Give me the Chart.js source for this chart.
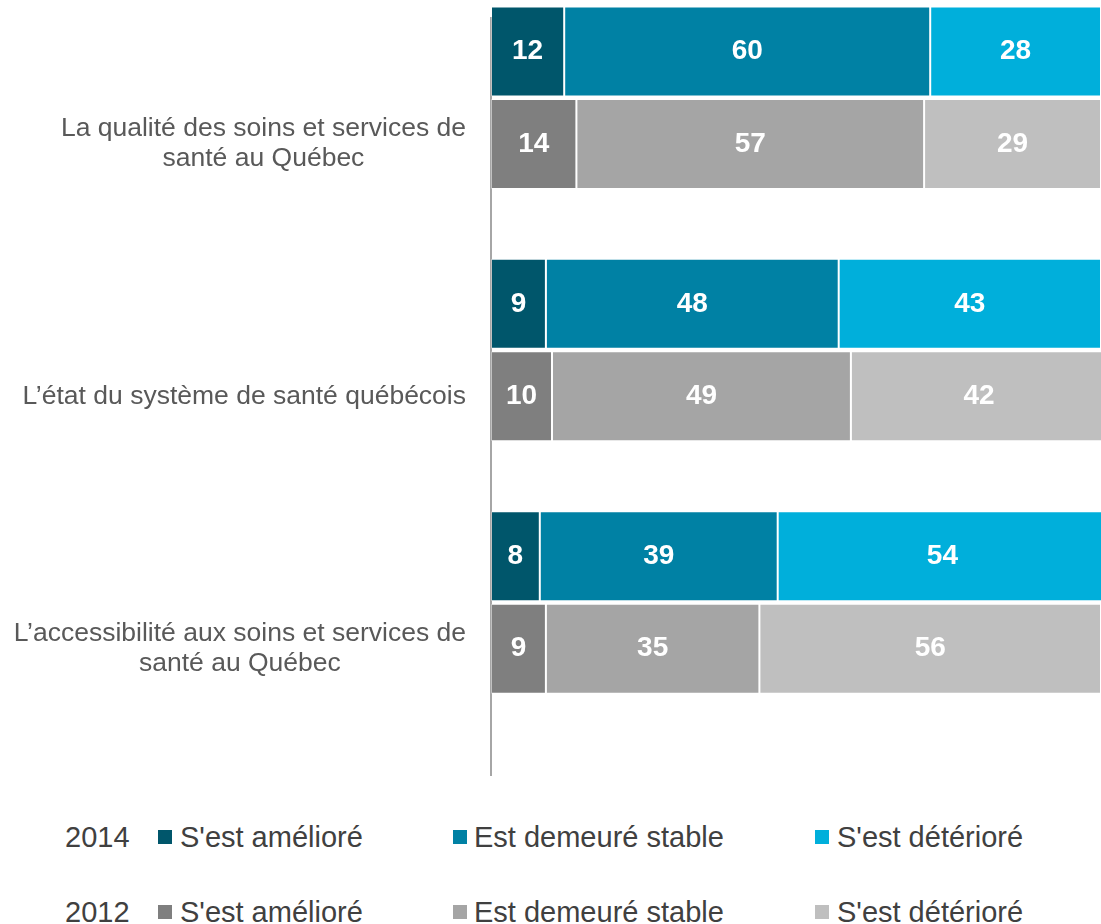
<!DOCTYPE html>
<html>
<head>
<meta charset="utf-8">
<script src="https://cdn.jsdelivr.net/npm/chart.js@4/dist/chart.umd.min.js"></script>
<style>
body { margin: 0; background: #fff; font-family: Arial, "Liberation Sans", sans-serif; }
#wrap { position: relative; width: 1101px; height: 924px; overflow: hidden; }
#chartBox { position: absolute; left: 0; top: 0; width: 1101px; height: 790px; }
.legendRow { position: absolute; left: 0; width: 1101px; height: 38px; line-height: 38px; font-size: 29px; color: #404040; white-space: nowrap; }
.legendRow span { position: absolute; top: 0; }
.legendRow .year { left: 65px; }
.legendRow .box { width: 14px; height: 14px; top: 12px; }
.legendRow .box.c0 { left: 158px; }
.legendRow .txt.c0 { left: 180px; }
.legendRow .box.c1 { left: 453px; }
.legendRow .txt.c1 { left: 474px; }
.legendRow .box.c2 { left: 815px; }
.legendRow .txt.c2 { left: 837px; }
#row0 { top: 818px; }
#row1 { top: 893px; }
</style>
</head>
<body>
<div id="wrap">
  <div id="chartBox"><canvas id="plot"></canvas></div>
  <div class="legendRow" id="row0"></div>
  <div class="legendRow" id="row1"></div>
</div>
<script>
// Categories, one block of lines each
var categories = [
    ['La qualité des soins et services de', 'santé au Québec'],
    ['L’état du système de santé québécois'],
    ['L’accessibilité aux soins et services de', 'santé au Québec']
];
var years = ['2014', '2012'];
var answers = ["S'est amélioré", 'Est demeuré stable', "S'est détérioré"];

// Percentages, in category order
var improved2014 = [12, 9, 8];
var stable2014   = [60, 48, 39];
var worse2014    = [28, 43, 54];
var improved2012 = [14, 10, 9];
var stable2012   = [57, 49, 35];
var worse2012    = [29, 42, 56];

var colors2014 = ['#00566b', '#0081a4', '#00afdb'];
var colors2012 = ['#7f7f7f', '#a5a5a5', '#bfbfbf'];

function makeDataset(label, values, color, stack)
{
    return {
        label: label,
        stack: stack,
        data: values.map(function(v, i) { return {x: v, y: i}; }),
        backgroundColor: color,
        borderColor: 'rgba(255,255,255,0.3)',
        borderWidth: 1,
        borderSkipped: false,
        categoryPercentage: 0.733,
        barPercentage: 0.973,
        clip: false
    };
}

var series2014 = [improved2014, stable2014, worse2014];
var series2012 = [improved2012, stable2012, worse2012];
var datasets = [];
series2014.forEach(function(values, k) {
    datasets.push(makeDataset(answers[k], values, colors2014[k], years[0]));
});
series2012.forEach(function(values, k) {
    datasets.push(makeDataset(answers[k], values, colors2012[k], years[1]));
});

// Value written in the middle of each segment
var segmentLabels = {
    id: 'segmentLabels',
    afterDatasetsDraw: function(chart) {
        var ctx = chart.ctx;
        ctx.save();
        ctx.font = 'bold 28px Arial, "Liberation Sans", sans-serif';
        ctx.fillStyle = '#ffffff';
        ctx.textAlign = 'center';
        ctx.textBaseline = 'middle';
        chart.data.datasets.forEach(function(ds, d) {
            chart.getDatasetMeta(d).data.forEach(function(bar, i) {
                var p = bar.getCenterPoint();
                ctx.fillText(String(ds.data[i].x), p.x, p.y);
            });
        });
        ctx.restore();
    }
};

// Category text, right aligned as a block, lines centred, level with the 2012 bar
var categoryLabels = {
    id: 'categoryLabels',
    afterDraw: function(chart) {
        var ctx = chart.ctx;
        var right = chart.chartArea.left - 25;
        var bars2012 = chart.getDatasetMeta(series2014.length).data;
        ctx.save();
        ctx.font = '26.5px Arial, "Liberation Sans", sans-serif';
        ctx.fillStyle = '#595959';
        ctx.textAlign = 'center';
        ctx.textBaseline = 'middle';
        categories.forEach(function(lines, i) {
            var widest = Math.max.apply(null, lines.map(function(l) { return ctx.measureText(l).width; }));
            var cx = right - widest / 2;
            var top = bars2012[i].y - (lines.length - 1) * 15;
            lines.forEach(function(l, k) {
                ctx.fillText(l, cx, top + k * 30);
            });
        });
        ctx.restore();
    }
};

new Chart(document.getElementById('plot'), {
    type: 'bar',
    data: { datasets: datasets },
    plugins: [segmentLabels, categoryLabels],
    options: {
        indexAxis: 'y',
        responsive: true,
        maintainAspectRatio: false,
        animation: false,
        layout: { padding: { top: 18, bottom: 15, left: 0, right: 0 } },
        plugins: {
            legend: { display: false },
            tooltip: { enabled: false }
        },
        scales: {
            x: { type: 'linear', stacked: true, min: 0, max: 100, display: false },
            y: {
                type: 'linear',
                stacked: true,
                reverse: true,
                offset: false,
                min: -0.316,
                max: 2.684,
                afterBuildTicks: function(scale) {
                    scale.ticks = categories.map(function(c, i) { return {value: i}; });
                },
                afterFit: function(scale) { scale.width = 491; },
                grid: { display: false, drawTicks: false, offset: false },
                ticks: { display: false },
                border: { display: true, color: '#a6a6a6', width: 2 }
            }
        }
    }
});

// Legend, one row per year
years.forEach(function(year, r) {
    var row = document.getElementById('row' + r);
    var colors = r == 0 ? colors2014 : colors2012;
    var html = '<span class="year">' + year + '</span>';
    answers.forEach(function(a, k) {
        html += '<span class="box c' + k + '" style="background:' + colors[k] + '"></span>';
        html += '<span class="txt c' + k + '">' + a + '</span>';
    });
    row.innerHTML = html;
});
</script>
</body>
</html>
